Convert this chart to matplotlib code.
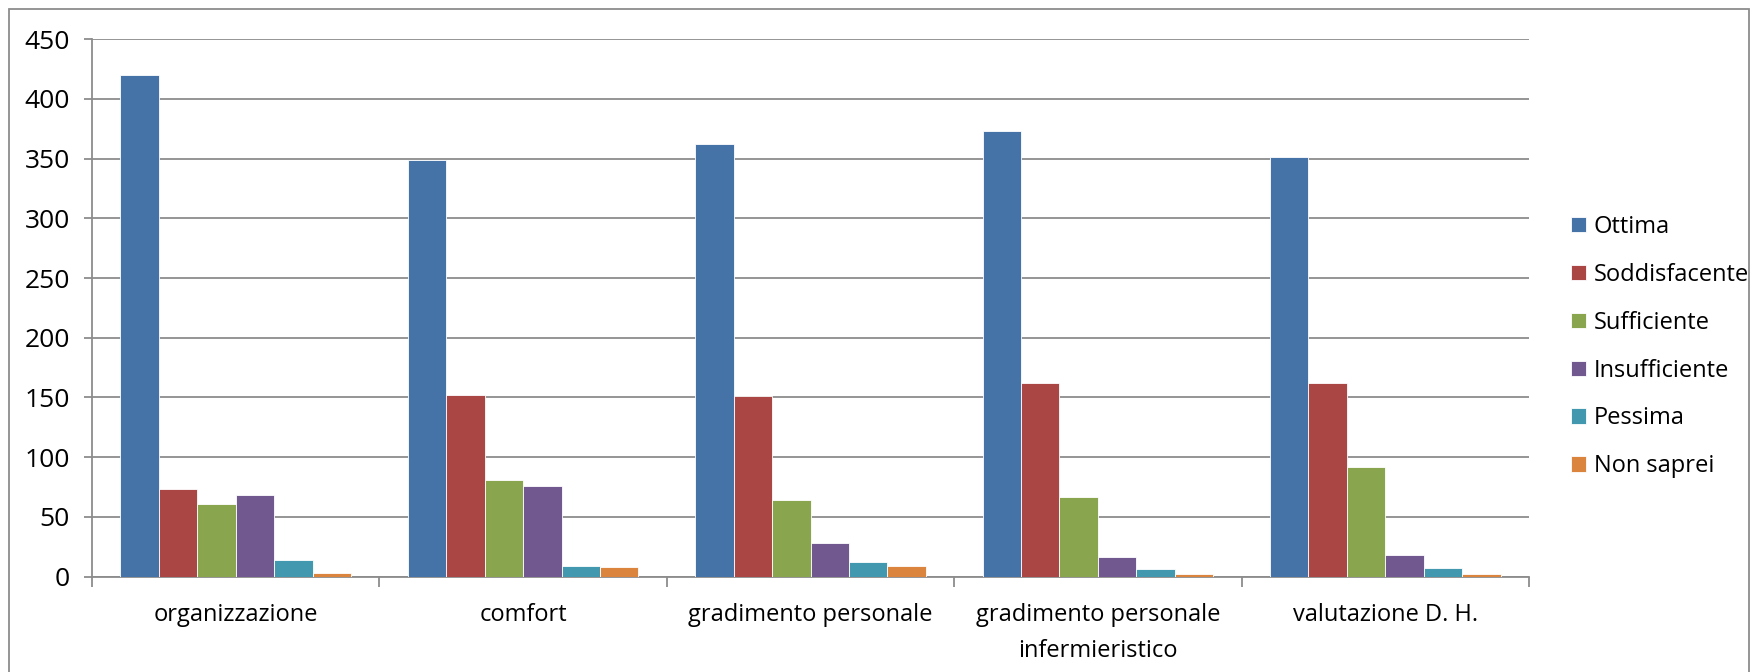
import matplotlib
matplotlib.use("Agg")
import matplotlib.pyplot as plt
import numpy as np
from matplotlib.patches import Rectangle

categories = ["organizzazione", "comfort", "gradimento personale",
              "gradimento personale\ninfermieristico", "valutazione D. H."]
series_names = ["Ottima", "Soddisfacente", "Sufficiente", "Insufficiente", "Pessima", "Non saprei"]
ottima = [420, 349, 362, 373, 351]
soddisfacente = [73, 152, 151, 162, 162]
sufficiente = [61, 81, 64, 67, 92]
insufficiente = [68, 76, 28, 16, 18]
pessima = [14, 9, 12, 6, 7]
non_saprei = [3, 8, 9, 2, 2]
yticks = [0, 50, 100, 150, 200, 250, 300, 350, 400, 450]

series = [ottima, soddisfacente, sufficiente, insufficiente, pessima, non_saprei]
colors = ["#4572A7", "#AA4643", "#89A54E", "#71588F", "#4198AF", "#DB843D"]

plt.rcParams['font.family'] = ['Open Sans', 'DejaVu Sans']
FS = 17
FSY = 19

W, H = 1762, 672
fig = plt.figure(figsize=(W / 100, H / 100), dpi=100)
ax = fig.add_axes([92 / W, 1 - 576.5 / H, (1529 - 92) / W, (576.5 - 39.3) / H])

x = np.arange(len(categories))
n = len(series)
bw = 0.1337
for i, (vals, c, name) in enumerate(zip(series, colors, series_names)):
    ax.bar(x + (i - (n - 1) / 2) * bw, vals, width=bw, color=c, label=name,
           edgecolor="white", linewidth=0.6, zorder=3)

ax.set_xlim(-0.5, len(categories) - 0.5)
ax.set_ylim(0, 450)
ax.set_yticks(yticks)
ax.set_yticklabels([str(t) for t in yticks], fontsize=FSY)
ax.yaxis.grid(True, color="#8c8c8c", linewidth=1.3, zorder=0)
ax.set_axisbelow(True)

ax.set_xticks(np.arange(-0.5, len(categories) + 0.5, 1.0))
ax.set_xticklabels([])
ax.set_xticks(x, minor=True)
ax.set_xticklabels(categories, minor=True, fontsize=FS, linespacing=1.7)
ax.tick_params(axis="x", which="major", length=7, width=1.3, color="#8c8c8c", direction="out")
ax.tick_params(axis="x", which="minor", length=0, pad=19)
ax.tick_params(axis="y", length=6, width=1.3, color="#8c8c8c", pad=10)

for s in ["top", "right"]:
    ax.spines[s].set_visible(False)
for s in ["left", "bottom"]:
    ax.spines[s].set_color("#8c8c8c")
    ax.spines[s].set_linewidth(1.3)

leg = fig.legend(loc="upper left", bbox_to_anchor=(1571 / W, 1 - 215 / H),
                 frameon=False, fontsize=FS, handlelength=0.62, handleheight=0.62,
                 handletextpad=0.35, labelspacing=1.01, borderpad=0, borderaxespad=0)

fig.patches.append(Rectangle((9 / W, -0.05), (1748.5 - 9) / W, 1 - 9 / H + 0.05,
                             transform=fig.transFigure, fill=False,
                             edgecolor="#8c8c8c", linewidth=1.3))

fig.savefig("out.png", dpi=100)
